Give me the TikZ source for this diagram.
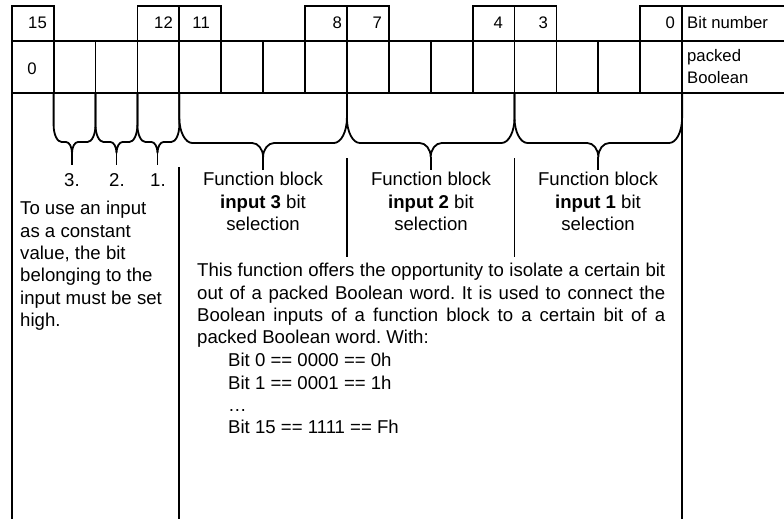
\documentclass[tikz,border=0pt]{standalone}
\usepackage{fontspec}
\setmainfont{Liberation Sans}

\begin{document}
\begin{tikzpicture}[
    x=1pt, y=-1pt,
    font=\fontsize{18.6}{22.4}\selectfont,
    rule/.style={line width=1.8pt},
    brc/.style={line width=1.8pt, line join=round},
    tbl/.style={inner sep=0pt, font=\fontsize{16.7}{22.4}\selectfont},
    bitno/.style={tbl, anchor=base east},
    txt/.style={anchor=north west, inner sep=0pt, align=left},
    fbtext/.style={anchor=north, inner sep=0pt, align=center}
]

% ---- cell grid: left edge, bit cell width, right ends ----
\def\xL{11.7}
\def\cw{41.9}
\def\xR{682.1}
\def\xE{784}

% ---- row y-positions ----
\def\rTop{6}
\def\rMid{41}
\def\rBot{93}
\def\rEnd{519}

\useasboundingbox (0,0) rectangle (\xE,\rEnd);

% ===== BIT NUMBER ROW =====
\draw[rule] (\xL,\rMid) |- (\xL+\cw,\rTop) -- (\xL+\cw,\rMid);
\draw[rule] (\xL+3*\cw,\rMid) |- (\xL+5*\cw,\rTop) -- (\xL+5*\cw,\rMid);
\draw[rule] (\xL+7*\cw,\rMid) |- (\xL+9*\cw,\rTop) -- (\xL+9*\cw,\rMid);
\draw[rule] (\xL+11*\cw,\rMid) |- (\xL+13*\cw,\rTop) -- (\xL+13*\cw,\rMid);
\draw[rule] (\xL+15*\cw,\rMid) |- (\xE,\rTop);
\foreach \i in {4,8,12,16}
  \draw[rule] (\xL+\i*\cw,\rTop) -- (\xL+\i*\cw,\rMid);

\node[bitno] (b15) at (47,28.5) {15};
\node[bitno] (b12) at (173,28.5) {12};
\node[bitno] (b11) at (210,28.5) {11};
\node[bitno] (b8)  at (342,28.5) {8};
\node[bitno] (b7)  at (382,28.5) {7};
\node[bitno] (b4)  at (503,28.5) {4};
\node[bitno] (b3)  at (548,28.5) {3};
\node[bitno] (b0)  at (675,28.5) {0};
\node[tbl, anchor=base west] (bitnum) at (687,28.5) {Bit number};

% ===== PACKED BOOLEAN ROW =====
\draw[rule] (\xL,\rMid) -- (\xE,\rMid);
\draw[rule] (\xL,\rBot) -- (\xE,\rBot);
\foreach \i in {1,...,15}
  \draw[rule] (\xL+\i*\cw,\rMid) -- (\xL+\i*\cw,\rBot);
% outer verticals run on to the bottom edge
\draw[rule] (\xL,\rTop) -- (\xL,\rEnd);
\draw[rule] (\xR,\rMid) -- (\xR,\rEnd);

\node[tbl, anchor=base] (zero) at (32,74.5) {0};
\node[tbl, txt] (packed) at (687,49) {packed\\Boolean};

% ===== BRACES =====
% small braces over the constant-value bits
\foreach \i/\xc in {1/72, 2/116.5, 3/157.5} {
  \pgfmathsetmacro\xa{\xL+\i*\cw}
  \pgfmathsetmacro\xb{\xa+\cw}
  \draw[brc] (\xa,\rBot) -- (\xa,125)
    .. controls (\xa,134.4) and (\xa+3.6,142) .. (\xa+8,142)
    -- (\xc-6,142) .. controls (\xc-2.7,142) and (\xc,147) .. (\xc,153)
    .. controls (\xc,147) and (\xc+2.7,142) .. (\xc+6,142) -- (\xb-8,142)
    .. controls (\xb-3.6,142) and (\xb,134.4) .. (\xb,125) -- (\xb,\rBot);
  \draw[brc] (\xc,153) -- (\xc,165);
}
% large braces over the input nibbles
\foreach \i in {4,8,12} {
  \pgfmathsetmacro\xa{\xL+\i*\cw}
  \pgfmathsetmacro\xb{\xa+4*\cw}
  \pgfmathsetmacro\xc{(\xa+\xb)/2}
  \draw[brc] (\xa,\rBot) -- (\xa,118)
    .. controls (\xa,131.8) and (\xa+5.9,143) .. (\xa+13,143)
    -- (\xc-11,143) .. controls (\xc-5,143) and (\xc,149.3) .. (\xc,157)
    .. controls (\xc,149.3) and (\xc+5,143) .. (\xc+11,143) -- (\xb-13,143)
    .. controls (\xb-5.9,143) and (\xb,131.8) .. (\xb,118) -- (\xb,\rBot);
  \draw[brc] (\xc,157) -- (\xc,170);
}

% dividers under the braces
\draw[rule] (\xL+4*\cw,167) -- (\xL+4*\cw,\rEnd);
\draw[rule] (\xL+8*\cw,158) -- (\xL+8*\cw,257);
\draw[rule] (\xL+12*\cw,158) -- (\xL+12*\cw,257);

% ===== LABELS =====
\node[anchor=base, inner sep=0pt] (in3) at (72,186) {3.};
\node[anchor=base, inner sep=0pt] (in2) at (117,186) {2.};
\node[anchor=base, inner sep=0pt] (in1) at (158,186) {1.};

\node[fbtext] (fb3) at (263,172) {Function block\\\textbf{input 3} bit\\selection};
\node[fbtext] (fb2) at (431,172) {Function block\\\textbf{input 2} bit\\selection};
\node[fbtext] (fb1) at (598,172) {Function block\\\textbf{input 1} bit\\selection};

\node[txt] (const) at (20,201) {To use an input\\as a constant\\value, the bit\\belonging to the\\input must be set\\high.};

\node[txt, text width=468pt, align=justify] (descr) at (197,263)
  {\frenchspacing\hyphenpenalty=10000 This function offers the opportunity to isolate a certain bit\linebreak
   out of a packed Boolean word. It is used to connect the\linebreak
   Boolean inputs of a function block to a certain bit of a\linebreak
   packed Boolean word. With:};
\node[txt] (codes) at (228,353)
  {Bit 0 == 0000 == 0h\\Bit 1 == 0001 == 1h\\…\\Bit 15 == 1111 == Fh};

\end{tikzpicture}
\end{document}
